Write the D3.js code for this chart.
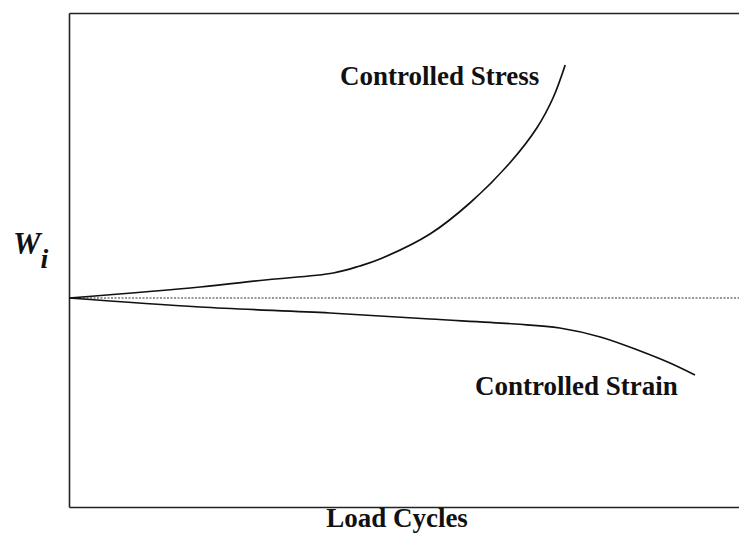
<!DOCTYPE html>
<html>
<head>
<meta charset="utf-8">
<script src="https://cdn.jsdelivr.net/npm/d3@7"></script>
<style>
  html, body { margin: 0; padding: 0; background: #fff; }
  text { font-family: "Liberation Serif", "Times New Roman", serif; font-weight: bold; fill: #111; }
</style>
</head>
<body>
<svg id="chart" width="739" height="552"></svg>
<script>
var width = 739;
var height = 552;

// load cycles (arbitrary units) and W_i values
var stressCycles = [0, 19.4, 29, 39.1, 43.0, 46.0, 53.4, 59.3, 65.2, 69.2, 71.6, 73.4];
var stressW      = [0, 0.11, 0.18, 0.25, 0.32, 0.39, 0.64, 0.95, 1.35, 1.70, 2.00, 2.33];

var strainCycles = [0, 19.4, 38.6, 53.4, 66.0, 72.6, 78.6, 84.5, 88.9, 92.6];
var strainW      = [0, -0.09, -0.15, -0.21, -0.26, -0.30, -0.39, -0.53, -0.65, -0.77];

var refCycles = [0, 101];
var refW = [0, 0];

var svg = d3.select("#chart");

var x = d3.scaleLinear().domain([0, 100]).range([69, 745]);
var y = d3.scaleLinear().domain([-2.09, 2.85]).range([507, 13]);

var line = d3.line()
  .x(d => x(d[0]))
  .y(d => y(d[1]))
  .curve(d3.curveCatmullRom.alpha(0.5));

// frame: axes with no ticks
function frame(g) {
  g.selectAll("path.domain").attr("stroke", "#222").attr("stroke-width", 1.6);
}
svg.append("g")
  .attr("transform", `translate(${x(0)},0)`)
  .call(d3.axisLeft(y).tickValues([]).tickSizeOuter(0))
  .call(frame);
svg.append("g")
  .attr("transform", `translate(0,${y.range()[0]})`)
  .call(d3.axisBottom(x).tickValues([]).tickSizeOuter(0))
  .call(frame);
svg.append("g")
  .attr("transform", `translate(0,${y.range()[1]})`)
  .call(d3.axisTop(x).tickValues([]).tickSizeOuter(0))
  .call(frame);

// reference line at W = 0
svg.append("path")
  .datum(d3.zip(refCycles, refW))
  .attr("fill", "none")
  .attr("stroke", "#333")
  .attr("stroke-width", 1.2)
  .attr("stroke-dasharray", "2,1.5")
  .attr("d", line);

svg.append("path")
  .datum(d3.zip(stressCycles, stressW))
  .attr("fill", "none")
  .attr("stroke", "#111")
  .attr("stroke-width", 1.7)
  .attr("d", line);

svg.append("path")
  .datum(d3.zip(strainCycles, strainW))
  .attr("fill", "none")
  .attr("stroke", "#111")
  .attr("stroke-width", 1.7)
  .attr("d", line);

// labels
svg.append("text")
  .attr("x", 340).attr("y", 85)
  .style("font-size", "27px")
  .text("Controlled Stress");

svg.append("text")
  .attr("x", 475).attr("y", 395)
  .style("font-size", "27px")
  .text("Controlled Strain");

svg.append("text")
  .attr("x", 397).attr("y", 527)
  .attr("text-anchor", "middle")
  .style("font-size", "27px")
  .text("Load Cycles");

var wLabel = svg.append("text")
  .attr("x", 13).attr("y", 254)
  .style("font-size", "31px")
  .style("font-weight", "bold")
  .style("font-style", "italic");
wLabel.append("tspan").text("W");
wLabel.append("tspan").attr("dx", 0).attr("dy", 14).style("font-size", "28px").text("i");
</script>
</body>
</html>
